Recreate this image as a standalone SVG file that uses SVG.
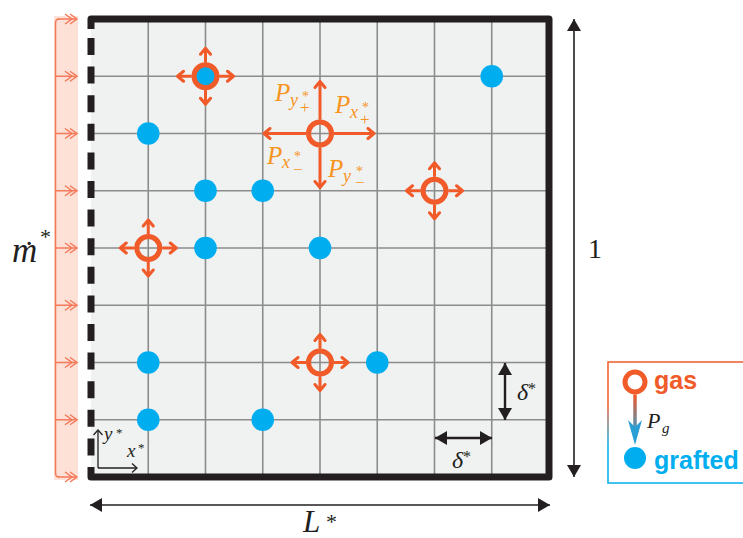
<svg xmlns="http://www.w3.org/2000/svg" width="743" height="538" viewBox="0 0 743 538">
<defs>
<style>
.grid{stroke:#8c8c8c;stroke-width:1.6;fill:none}
.graft{fill:#00aeef}
.ring{fill:none;stroke:#f15a29;stroke-width:5}
.arr{stroke:#f15a29;stroke-width:3;fill:none;marker-end:url(#och)}
.inlet{stroke:#f47a5a;stroke-width:1.5;fill:none}
.inar{stroke:#f47a5a;stroke-width:1.5;fill:none;marker-end:url(#dch)}
.lbl{font-family:"Liberation Serif",serif;font-style:italic;fill:#f7941d}
.lblu{font-family:"Liberation Serif",serif;fill:#f7941d}
.math{font-family:"Liberation Serif",serif;font-style:italic;fill:#231f20}
.mathu{font-family:"Liberation Serif",serif;fill:#231f20}
.dim{stroke:#231f20;stroke-width:1.6;fill:none;marker-start:url(#tri);marker-end:url(#tri)}
.dimb{stroke:#231f20;stroke-width:2.4;fill:none;marker-start:url(#tri);marker-end:url(#tri)}
.ax{stroke:#231f20;stroke-width:1.3;fill:none;marker-end:url(#ach)}
.leg{font-family:"Liberation Sans",Arial,sans-serif;font-weight:bold}
</style>
<marker id="och" viewBox="-10 -7 12 14" refX="0" refY="0" markerWidth="12" markerHeight="14" markerUnits="userSpaceOnUse" orient="auto">
<path d="M-6,-5 L0,0 L-6,5" fill="none" stroke="#f15a29" stroke-width="3" stroke-linejoin="round" stroke-linecap="round"/>
</marker>
<marker id="dch" viewBox="-14 -7 16 14" refX="0" refY="0" markerWidth="16" markerHeight="14" markerUnits="userSpaceOnUse" orient="auto">
<path d="M-12,-5 L-5,0 L-12,5 M-7,-5 L0,0 L-7,5" fill="none" stroke="#f47a5a" stroke-width="1.5"/>
</marker>
<marker id="ach" viewBox="-8 -6 10 12" refX="0" refY="0" markerWidth="10" markerHeight="12" markerUnits="userSpaceOnUse" orient="auto">
<path d="M-5,-4.5 L0,0 L-5,4.5" fill="none" stroke="#231f20" stroke-width="1.3"/>
</marker>
<marker id="tri" viewBox="-13 -8 14 16" refX="0" refY="0" markerWidth="14" markerHeight="16" markerUnits="userSpaceOnUse" orient="auto-start-reverse">
<path d="M0,0 L-12,-7 L-12,7 z" fill="#231f20"/>
</marker>
<linearGradient id="legbox" gradientUnits="userSpaceOnUse" x1="0" y1="362" x2="0" y2="483">
<stop offset="0" stop-color="#f15a29"/>
<stop offset="0.35" stop-color="#f15a29"/>
<stop offset="0.7" stop-color="#00aeef"/>
<stop offset="1" stop-color="#00aeef"/>
</linearGradient>
<linearGradient id="legarr" gradientUnits="userSpaceOnUse" x1="0" y1="395" x2="0" y2="435">
<stop offset="0" stop-color="#f15a29"/>
<stop offset="1" stop-color="#2a9fd6"/>
</linearGradient>
<g id="gasnode">
<circle class="ring" r="11.5"/>
<path class="arr" d="M0,-14 V-28"/>
<path class="arr" d="M0,14 V28"/>
<path class="arr" d="M-14,0 H-28"/>
<path class="arr" d="M14,0 H28"/>
</g>
</defs>

<g id="inlet">
<rect x="54" y="16" width="24" height="464" fill="#fde0d6"/>
<path class="inlet" d="M59,19 Q55.5,19 55.5,23 V473 Q55.5,477 59,477"/>
<path class="inar" d="M58,19 H77"/>
<path class="inar" d="M55.5,76.25 H77"/>
<path class="inar" d="M55.5,133.5 H77"/>
<path class="inar" d="M55.5,190.75 H77"/>
<path class="inar" d="M55.5,248 H77"/>
<path class="inar" d="M55.5,305.25 H77"/>
<path class="inar" d="M55.5,362.5 H77"/>
<path class="inar" d="M55.5,419.75 H77"/>
<path class="inar" d="M58,477 H77"/>
</g>

<g id="domain">
<rect x="91" y="19" width="458" height="458" fill="#f0f1f1"/>
<g class="grid">
<path d="M148.25,19 V477 M205.5,19 V477 M262.75,19 V477 M320,19 V477 M377.25,19 V477 M434.5,19 V477 M491.75,19 V477"/>
<path d="M91,76.25 H549 M91,133.5 H549 M91,190.75 H549 M91,248 H549 M91,305.25 H549 M91,362.5 H549 M91,419.75 H549"/>
</g>
<path d="M91,29 V19 H549 V477 H91 V467" fill="none" stroke="#231f20" stroke-width="7" stroke-linejoin="round"/>
<path d="M91,38 V456" fill="none" stroke="#231f20" stroke-width="7" stroke-dasharray="17 11.6"/>
</g>

<g id="grafted">
<circle class="graft" cx="205.5" cy="76.25" r="11.3"/>
<circle class="graft" cx="491.75" cy="76.25" r="11.3"/>
<circle class="graft" cx="148.25" cy="133.5" r="11.3"/>
<circle class="graft" cx="205.5" cy="190.75" r="11.3"/>
<circle class="graft" cx="262.75" cy="190.75" r="11.3"/>
<circle class="graft" cx="205.5" cy="248" r="11.3"/>
<circle class="graft" cx="320" cy="248" r="11.3"/>
<circle class="graft" cx="148.25" cy="362.5" r="11.3"/>
<circle class="graft" cx="377.25" cy="362.5" r="11.3"/>
<circle class="graft" cx="148.25" cy="419.75" r="11.3"/>
<circle class="graft" cx="262.75" cy="419.75" r="11.3"/>
</g>

<g id="gas1"><use href="#gasnode" x="205.5" y="76.25"/></g>
<g id="gas2"><use href="#gasnode" x="148.25" y="248"/></g>
<g id="gas3"><use href="#gasnode" x="434.5" y="190.75"/></g>
<g id="gas4"><use href="#gasnode" x="320" y="362.5"/></g>
<g id="gas-main" transform="translate(320,133.5)">
<circle class="ring" r="11.5"/>
<path class="arr" d="M0,-14 V-52"/>
<path class="arr" d="M0,14 V54"/>
<path class="arr" d="M-14,0 H-56"/>
<path class="arr" d="M14,0 H54"/>
</g>

<g id="labels-P">
<text class="lbl" x="275" y="101" font-size="25">P</text>
<text class="lbl" x="290" y="106" font-size="18">y</text>
<text class="lblu" x="302" y="101" font-size="14">*</text>
<text class="lblu" x="300" y="113" font-size="17">+</text>

<text class="lbl" x="335" y="113" font-size="25">P</text>
<text class="lbl" x="350" y="118" font-size="18">x</text>
<text class="lblu" x="362" y="112" font-size="14">*</text>
<text class="lblu" x="360" y="125" font-size="17">+</text>

<text class="lbl" x="267" y="164" font-size="25">P</text>
<text class="lbl" x="282" y="168" font-size="18">x</text>
<text class="lblu" x="294" y="161" font-size="14">*</text>
<text class="lblu" x="293" y="175" font-size="17">−</text>

<text class="lbl" x="328" y="177" font-size="25">P</text>
<text class="lbl" x="343" y="182" font-size="18">y</text>
<text class="lblu" x="356" y="176" font-size="14">*</text>
<text class="lblu" x="355" y="188" font-size="17">−</text>
</g>

<g id="connectors">
<path class="dim" d="M90,505 H550"/>
<path class="dim" d="M574,19 V477"/>
<path class="dimb" d="M505,363 V420"/>
<path class="dimb" d="M435,438 H492"/>
<path class="ax" d="M98,468 V430"/>
<path class="ax" d="M98,468 H137"/>
</g>

<g id="dim-labels">
<text class="math" x="303" y="532" font-size="31">L</text>
<text class="mathu" x="326" y="529" font-size="22">*</text>
<text class="mathu" x="588" y="258" font-size="28">1</text>
<text class="math" x="12" y="262" font-size="35">m</text>
<text class="math" x="22" y="263" font-size="31">˙</text>
<text class="mathu" x="40" y="244" font-size="22">*</text>
<text class="math" x="517" y="400" font-size="24">δ</text>
<text class="mathu" x="528" y="394" font-size="16">*</text>
<text class="math" x="452" y="468" font-size="24">δ</text>
<text class="mathu" x="463" y="462" font-size="16">*</text>
<text class="math" x="104" y="440" font-size="19">y</text>
<text class="mathu" x="116" y="437" font-size="13">*</text>
<text class="math" x="127" y="457" font-size="19">x</text>
<text class="mathu" x="138" y="452" font-size="13">*</text>
</g>

<g id="legend">
<rect x="608" y="362" width="200" height="121" fill="#ffffff" stroke="url(#legbox)" stroke-width="1.5"/>
<circle cx="635" cy="382" r="10" fill="none" stroke="#f15a29" stroke-width="5"/>
<path d="M635,394.5 V430" stroke="url(#legarr)" stroke-width="3.5" fill="none"/>
<path d="M628,420 L635,445 L642,420 L635,427 z" fill="#2a9fd6"/>
<circle cx="635" cy="458" r="11" fill="#00aeef"/>
<text class="leg" x="654" y="389" font-size="25" fill="#f15a29">gas</text>
<text class="leg" x="654" y="469" font-size="25" fill="#00aeef">grafted</text>
<text class="math" x="647" y="428" font-size="22">P</text>
<text class="math" x="662" y="433" font-size="15">g</text>
</g>
</svg>
